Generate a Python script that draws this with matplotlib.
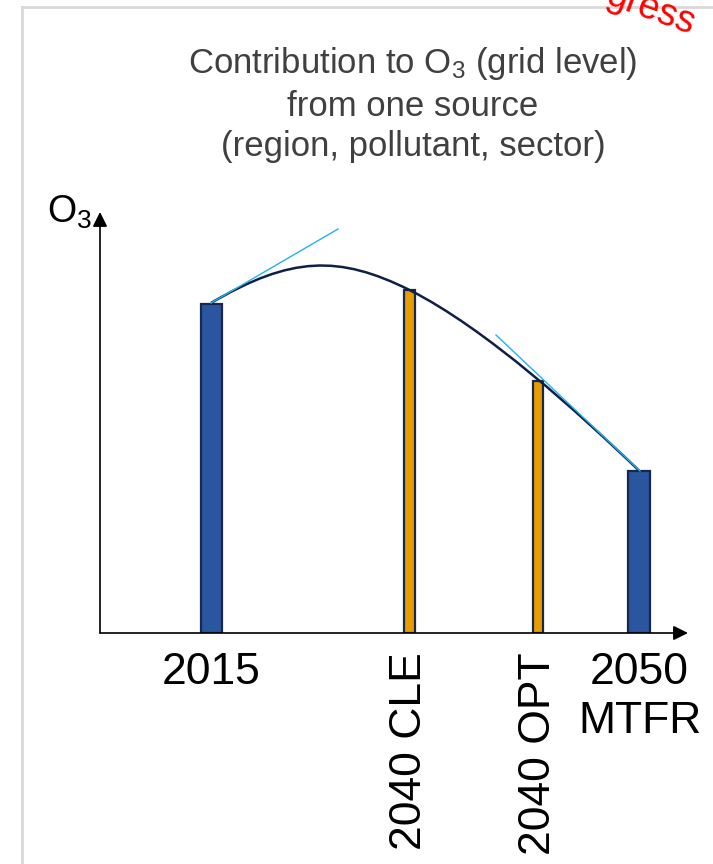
import matplotlib
matplotlib.use("Agg")
import matplotlib.pyplot as plt
from matplotlib.path import Path
from matplotlib.patches import PathPatch
import matplotlib.transforms as mtransforms

plt.rcParams['font.family'] = ['Liberation Sans', 'DejaVu Sans']
plt.rcParams['mathtext.fontset'] = 'custom'
plt.rcParams['mathtext.rm'] = 'Liberation Sans'
plt.rcParams['mathtext.it'] = 'Liberation Sans'

# ---- data ----
categories = ["2015", "2040 CLE", "2040 OPT", "2050\nMTFR"]
positions = [1.11, 3.095, 4.38, 5.395]
values = [3.29, 3.43, 2.52, 1.62]
bar_widths = [0.21, 0.11, 0.10, 0.22]
bar_colors = ["#2a56a0", "#e89c00", "#e89c00", "#2a56a0"]
label_rotation = [0, 90, 90, 0]
# smooth trend curve (two Bezier segments, control points in data units)
curve_x = [1.11, 1.91, 2.39, 3.095, 3.86, 4.80, 5.395]
curve_y = [3.30, 3.77, 3.78, 3.43, 3.045, 2.19, 1.62]
# tangent lines (start/end points, data units)
tangent1_x = [1.11, 2.38]
tangent1_y = [3.30, 4.04]
tangent2_x = [3.96, 5.40]
tangent2_y = [2.98, 1.62]
title_text = "Contribution to O$_3$ (grid level)\nfrom one source\n(region, pollutant, sector)"

W, H = 713, 864
fig = plt.figure(figsize=(W / 100, H / 100), dpi=100)
fig.patch.set_facecolor("white")

# frame lines of the slide
fig.add_artist(plt.Line2D([22 / W, 22 / W], [0, 1 - 7 / H], color="#d9d9d9", lw=2))
fig.add_artist(plt.Line2D([22 / W, 1], [1 - 7 / H, 1 - 7 / H], color="#d9d9d9", lw=2))

ax_left, ax_right, ax_bottom, ax_top = 100, 688, 633, 212
ax = fig.add_axes([ax_left / W, (H - ax_bottom) / H, (ax_right - ax_left) / W, (ax_bottom - ax_top) / H])
ax.set_xlim(0, 5.88)
ax.set_ylim(0, 4.21)
ax.axis("off")

ax.bar(positions, values, width=bar_widths, color=bar_colors, edgecolor="#16284d",
       linewidth=1.6, zorder=2)

verts = list(zip(curve_x, curve_y))
codes = [Path.MOVETO] + [Path.CURVE4] * 6
ax.add_patch(PathPatch(Path(verts, codes), facecolor="none", edgecolor="#0f1f45", lw=1.8, zorder=3))

ax.plot(tangent1_x, tangent1_y, color="#1fb4f0", lw=1.0, zorder=4)
ax.plot(tangent2_x, tangent2_y, color="#1fb4f0", lw=1.0, zorder=4)

# axes with arrows
ax.annotate("", xy=(1, 0), xytext=(0, 0), xycoords="axes fraction",
            arrowprops=dict(arrowstyle="-|>", color="black", lw=1.2, mutation_scale=22,
                            shrinkA=0, shrinkB=0), annotation_clip=False)
ax.annotate("", xy=(0, 1), xytext=(0, 0), xycoords="axes fraction",
            arrowprops=dict(arrowstyle="-|>", color="black", lw=1.2, mutation_scale=22,
                            shrinkA=0, shrinkB=0), annotation_clip=False)

# category labels
trans = mtransforms.blended_transform_factory(ax.transData, fig.transFigure)
for pos, lab, rot in zip(positions, categories, label_rotation):
    ax.text(pos, 1 - 652 / H, lab, transform=trans, ha="center", va="top",
            rotation=rot, fontsize=32, color="black", linespacing=1.25)

# title
fig.text(413 / W, 1 - 104 / H, title_text, ha="center", va="center", fontsize=25,
         color="#404040", linespacing=1.3)

# y label
fig.text(47 / W, 1 - 223 / H, "O$_3$", ha="left", va="baseline", fontsize=27, color="black")

# red overlay text
fig.text(690 / W, 1 - 35 / H, "gress", ha="right", va="baseline", rotation=-20,
         rotation_mode="anchor", fontsize=27, color="#ff0000")

fig.savefig("out.png", dpi=100)
